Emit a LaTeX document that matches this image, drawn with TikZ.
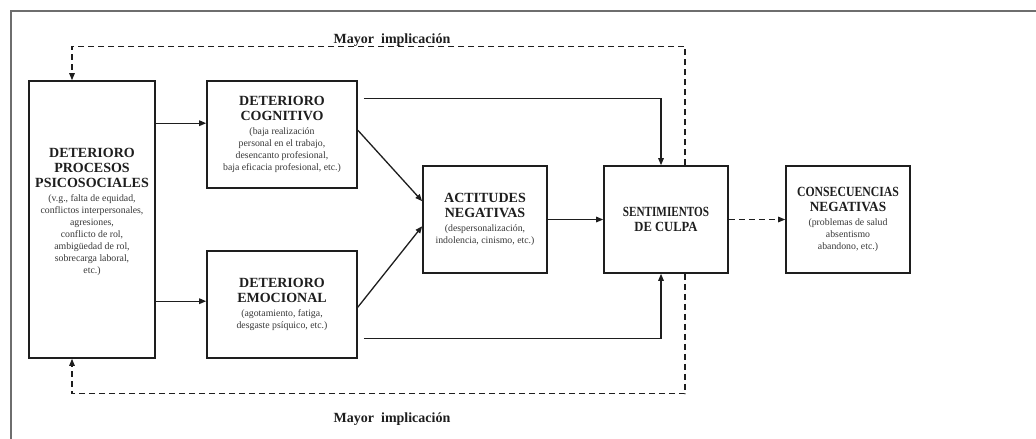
\documentclass[tikz,border=0pt]{standalone}
\usepackage{graphicx}
\usepackage{fontspec}
\setmainfont{Liberation Serif}
\usetikzlibrary{arrows.meta,calc}
\definecolor{framecol}{HTML}{6E6E6E}
\definecolor{inkcol}{HTML}{1E1E1E}
\definecolor{notecol}{HTML}{383838}
\newcommand{\tfont}{\fontsize{14}{15}\selectfont\bfseries}
\newcommand{\nfont}{\fontsize{9.8}{12}\selectfont\mdseries\color{notecol}}
\newcommand{\nl}{\\[-3pt]\nfont}
\newcommand{\narrow}[2]{\scalebox{#1}[1]{#2}}
\begin{document}
\begin{tikzpicture}[x=1pt,y=-1pt,
  box/.style={draw=inkcol,line width=1.6pt,rectangle,inner sep=0pt,align=center,text=inkcol,font=\tfont},
  txt/.style={align=center,inner sep=0pt,text=inkcol,font=\tfont},
  arr/.style={draw=inkcol,line width=1.3pt,-{Triangle[length=7pt,width=5.5pt]}},
  dasharr/.style={draw=inkcol,line width=1.2pt,dash pattern=on 6pt off 4pt,-{Triangle[length=7pt,width=5.5pt]}},
  lbl/.style={anchor=base,inner sep=0pt,text=inkcol,font=\fontsize{14}{15}\selectfont\bfseries}]
\useasboundingbox (0,0) rectangle (1036,439);
\fill[white] (0,0) rectangle (1036,439);
% outer frame
\coordinate (fbl) at (11,439);
\coordinate (ftl) at (11,11);
\coordinate (ftr) at (1036,11);
\draw[framecol,line width=2pt] (fbl) -- (ftl) -- (ftr);

% boxes
\node[box,minimum width=126pt,minimum height=277pt] (proc) at (92,219.5) {};
\node[txt] (proctxt) at (92,212) {DETERIORO\\PROCESOS\\PSICOSOCIALES\\[-1pt]\nfont (v.g., falta de equidad,\nl conflictos interpersonales,\nl agresiones,\nl conflicto de rol,\nl ambigüedad de rol,\nl sobrecarga laboral,\nl etc.)};
\node[box,minimum width=150pt,minimum height=107pt] (cog) at (282,134.5) {DETERIORO\\COGNITIVO\\[-1pt]\nfont (baja realización\nl personal en el trabajo,\nl desencanto profesional,\nl baja eficacia profesional, etc.)};
\node[box,minimum width=150pt,minimum height=107pt] (emo) at (282,304.5) {DETERIORO\\EMOCIONAL\\[-1pt]\nfont (agotamiento, fatiga,\nl desgaste psíquico, etc.)};
\node[box,minimum width=124pt,minimum height=107pt] (act) at (485,219.5) {ACTITUDES\\NEGATIVAS\\[-1pt]\nfont (despersonalización,\nl indolencia, cinismo, etc.)};
\node[box,minimum width=124pt,minimum height=107pt] (sent) at (666,219.5) {\narrow{0.8}{SENTIMIENTOS}\\\narrow{0.9}{DE CULPA}};
\node[box,minimum width=124pt,minimum height=107pt] (cons) at (848,219.5) {\narrow{0.84}{CONSECUENCIAS}\\\narrow{0.95}{NEGATIVAS}\\[-1pt]\nfont (problemas de salud\nl absentismo\nl abandono, etc.)};

% labels
\node[lbl] (ltop) at (392,43) {Mayor\hspace{0.5em}implicación};
\node[lbl] (lbot) at (392,422) {Mayor\hspace{0.5em}implicación};

% connectors
\draw[arr] ($(proc.north east)+(0,43)$) -- ($(cog.north west)+(0,43)$);
\draw[arr] ($(proc.north east)+(0,221)$) -- ($(emo.north west)+(0,51)$);
\draw[arr] ($(cog.north east)+(0,50)$) -- ($(act.north west)+(0,36)$);
\draw[arr] ($(emo.north east)+(0,57)$) -- ($(act.north west)+(0,61)$);
\draw[arr] ($(cog.north east)+(6,18)$) -| ($(sent.north)+(-5,0)$);
\draw[arr] ($(emo.north east)+(6,88)$) -| ($(sent.south)+(-5,0)$);
\draw[arr] (act.east) -- (sent.west);
\draw[dasharr] (sent.east) -- (cons.west);
\draw[dasharr] ($(sent.north)+(19,0)$) |- ($(proc.north)+(-20,-34)$) -- ($(proc.north)+(-20,0)$);
\draw[dasharr] ($(sent.south)+(19,0)$) |- ($(proc.south)+(-20,35)$) -- ($(proc.south)+(-20,0)$);
\end{tikzpicture}
\end{document}
